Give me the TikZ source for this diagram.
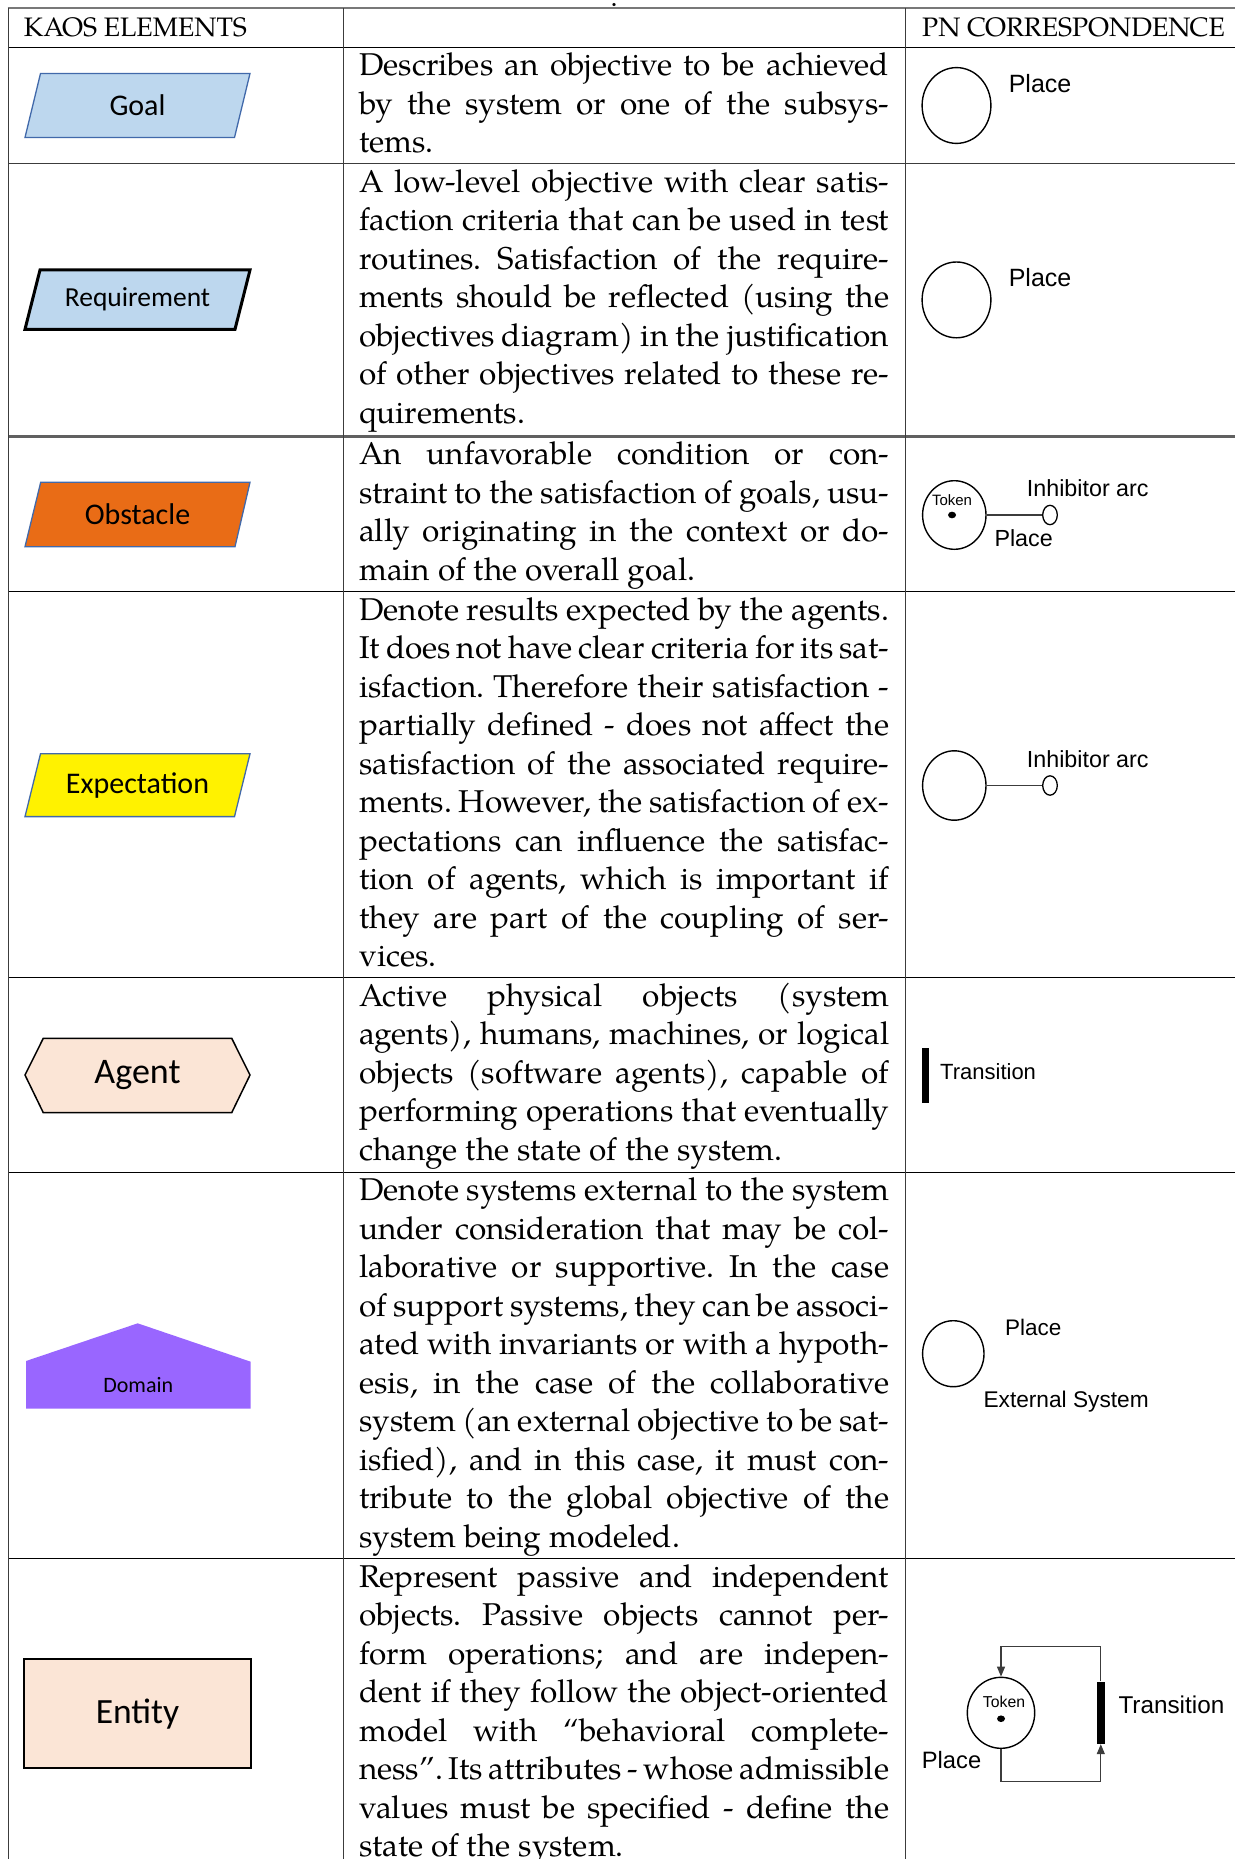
\documentclass[tikz,border=0pt]{standalone}
\usepackage{fontspec}
\usetikzlibrary{shapes.geometric,arrows.meta}
\newfontfamily\palfont{TeX Gyre Pagella}
\newfontfamily\calfont{Carlito}
\newfontfamily\arifont{Liberation Sans}
\definecolor{reqblue}{RGB}{189,215,238}
\definecolor{edgeblue}{RGB}{65,105,170}
\definecolor{obsorange}{RGB}{233,108,22}
\definecolor{agentpeach}{RGB}{251,229,214}
\definecolor{domviolet}{RGB}{153,102,255}
\definecolor{rulegray}{RGB}{120,120,120}
\definecolor{linegray}{RGB}{60,60,60}
% one justified line of a description, and the closing line
\newcommand\jl[1]{\makebox[530pt][s]{\frenchspacing\spaceskip=0pt\xspaceskip=0pt\strut#1}\\}
\newcommand\el[1]{\frenchspacing\spaceskip=0pt\xspaceskip=0pt\strut#1}
\begin{document}
\begin{tikzpicture}[x=1pt,y=-1pt,
  desc/.style={inner sep=0pt,anchor=north west,text width=530pt,align=left,
    font=\palfont\fontsize{31.5}{38.5}\selectfont},
  head/.style={inner sep=0pt,anchor=base west,font=\palfont\fontsize{26.7}{30}\selectfont},
  kaos/.style={inner sep=0pt,anchor=center},
  pnlabel/.style={inner sep=0pt,anchor=base west},
  place/.style={ellipse,draw=black,line width=1.4pt,inner sep=0pt},
  inhib/.style={ellipse,draw=black,line width=1.3pt,inner sep=0pt,
    minimum width=14.6pt,minimum height=19.4pt},
  tokendot/.style={ellipse,fill=black,inner sep=0pt,minimum width=8pt,minimum height=6.6pt},
  bar/.style={rectangle,fill=black,inner sep=0pt},
  arcline/.style={draw=linegray,line width=1.2pt},
  rowline/.style={draw=black,line width=1.3pt},
  colline/.style={draw=linegray,line width=1.4pt}]
\useasboundingbox (0,0) rectangle (1235,1859);

% stray caption dot above the table
\node[inner sep=0pt,anchor=base,font=\palfont\fontsize{28}{32}\selectfont] (capdot) at (614,6.5) {.};

% ---- table rules ----
\draw[draw=rulegray,line width=2.2pt] (7.6,8.3) -- (1235,8.3);
\draw[rowline] (8.3,47.4) -- (1235,47.4);
\draw[draw=linegray,line width=1.8pt] (8.3,163.6) -- (1235,163.6);
\draw[draw=rulegray!80!black,line width=3pt] (8.3,436.2) -- (1235,436.2);
\draw[rowline] (8.3,591.4) -- (1235,591.4);
\draw[rowline] (8.3,977.8) -- (1235,977.8);
\draw[rowline] (8.3,1172.2) -- (1235,1172.2);
\draw[rowline] (8.3,1558.5) -- (1235,1558.5);
\draw[colline] (8.3,8.3) -- (8.3,1859);
\draw[colline] (343.7,8.3) -- (343.7,1859);
\draw[colline] (905.5,8.3) -- (905.5,1859);

% ---- header ----
\node[head] (h1) at (23.7,36.7) {KAOS ELEMENTS};
\node[head] (h3) at (922,36.7) {PN CORRESPONDENCE};

% ---- KAOS element shapes ----
\draw[fill=reqblue,draw=edgeblue,line width=1.3pt]
  (25,137.5) -- (40.5,73.5) -- (250,73.5) -- (234.5,137.5) -- cycle;
\node[kaos,font=\calfont\fontsize{30}{36}\selectfont] (goal) at (137.5,105.5) {Goal};

\draw[fill=reqblue,draw=black,line width=3pt]
  (25,329.3) -- (40,270) -- (250,270) -- (235,329.3) -- cycle;
\node[kaos,font=\calfont\fontsize{27.5}{33}\selectfont] (req) at (137.5,299.6) {Requirement};

\draw[fill=obsorange,draw=edgeblue,line width=1.3pt]
  (25,546.7) -- (40.7,482.3) -- (250,482.3) -- (235,546.7) -- cycle;
\node[kaos,font=\calfont\fontsize{30}{36}\selectfont] (obs) at (137.5,514.5) {Obstacle};

\draw[fill=yellow,draw=edgeblue,line width=1.3pt]
  (25,816.6) -- (40.5,753.8) -- (250,753.8) -- (234.5,816.6) -- cycle;
\node[kaos,font=\calfont\fontsize{30}{36}\selectfont] (exp) at (137.5,785.2) {Expectation};

\draw[fill=agentpeach,draw=black,line width=1.5pt]
  (25,1075) -- (43.3,1038.3) -- (231.7,1038.3) -- (250,1075) -- (231.7,1112.7) -- (43.3,1112.7) -- cycle;
\node[kaos,font=\calfont\fontsize{36}{42}\selectfont] (agent) at (137.5,1075) {Agent};

\fill[domviolet]
  (26,1408.7) -- (26,1361) -- (137.7,1323.3) -- (250.7,1361.7) -- (250.7,1408.7) -- cycle;
\node[kaos,font=\calfont\fontsize{22}{26}\selectfont] (dom) at (138.3,1385) {Domain};

\draw[fill=agentpeach,draw=black,line width=2pt] (24.3,1659.3) rectangle (250.7,1768.3);
\node[kaos,font=\calfont\fontsize{35.5}{42}\selectfont] (ent) at (137.5,1714) {Entity};

% ---- descriptions ----
\node[desc] (dGoal) at (359,48.85) {%
\jl{Describes an objective to be achieved}
\jl{by the system or one of the subsys-}
\el{tems.}};

\node[desc] (dReq) at (359,165.05) {%
\jl{A low-level objective with clear satis-}
\jl{faction criteria that can be used in test}
\jl{routines. Satisfaction of the require-}
\jl{ments should be reflected (using the}
\jl{objectives diagram) in the justification}
\jl{of other objectives related to these re-}
\el{quirements.}};

\node[desc] (dObs) at (359,437.65) {%
\jl{An unfavorable condition or con-}
\jl{straint to the satisfaction of goals, usu-}
\jl{ally originating in the context or do-}
\el{main of the overall goal.}};

\node[desc] (dExp) at (359,592.85) {%
\jl{Denote results expected by the agents.}
\jl{It does not have clear criteria for its sat-}
\jl{isfaction. Therefore their satisfaction -}
\jl{partially defined - does not affect the}
\jl{satisfaction of the associated require-}
\jl{ments. However, the satisfaction of ex-}
\jl{pectations can influence the satisfac-}
\jl{tion of agents, which is important if}
\jl{they are part of the coupling of ser-}
\el{vices.}};

\node[desc] (dAgent) at (359,979.25) {%
\jl{Active physical objects (system}
\jl{agents), humans, machines, or logical}
\jl{objects (software agents), capable of}
\jl{performing operations that eventually}
\el{change the state of the system.}};

\node[desc] (dDom) at (359,1173.65) {%
\jl{Denote systems external to the system}
\jl{under consideration that may be col-}
\jl{laborative or supportive. In the case}
\jl{of support systems, they can be associ-}
\jl{ated with invariants or with a hypoth-}
\jl{esis, in the case of the collaborative}
\jl{system (an external objective to be sat-}
\jl{isfied), and in this case, it must con-}
\jl{tribute to the global objective of the}
\el{system being modeled.}};

\node[desc] (dEnt) at (359,1559.95) {%
\jl{Represent passive and independent}
\jl{objects. Passive objects cannot per-}
\jl{form operations; and are indepen-}
\jl{dent if they follow the object-oriented}
\jl{model with “behavioral complete-}
\jl{ness”. Its attributes - whose admissible}
\jl{values must be specified - define the}
\el{state of the system.}};

% ---- Petri net correspondences ----
% goal
\node[place,minimum width=68.8pt,minimum height=75.8pt] (pGoal) at (956.5,105.5) {};
\node[pnlabel,font=\arifont\fontsize{25}{30}\selectfont] (pGoalL) at (1008.6,92.4) {Place};
% requirement
\node[place,minimum width=68.8pt,minimum height=75.8pt] (pReq) at (956.5,299.9) {};
\node[pnlabel,font=\arifont\fontsize{25}{30}\selectfont] (pReqL) at (1008.6,286.8) {Place};
% obstacle
\node[place,minimum width=63.4pt,minimum height=68.6pt] (pObs) at (954.3,515) {};
\node[tokendot] (tObs) at (952,515) {};
\node[inner sep=0pt,anchor=base,font=\arifont\fontsize{15}{18}\selectfont] (tObsL) at (952,505) {Token};
\node[inhib] (iObs) at (1050,515) {};
\draw[arcline] (pObs) -- (iObs);
\node[pnlabel,font=\arifont\fontsize{23.3}{28}\selectfont] (iObsL) at (1026.7,496.7) {Inhibitor arc};
\node[pnlabel,font=\arifont\fontsize{23.3}{28}\selectfont] (pObsL) at (994.3,546) {Place};
% expectation
\node[place,minimum width=63.4pt,minimum height=69.4pt] (pExp) at (954.3,785.5) {};
\node[inhib] (iExp) at (1050,785.5) {};
\draw[arcline] (pExp) -- (iExp);
\node[pnlabel,font=\arifont\fontsize{23.3}{28}\selectfont] (iExpL) at (1026.7,767.7) {Inhibitor arc};
% agent
\node[bar,minimum width=7.6pt,minimum height=55pt] (tAgent) at (925.5,1075.8) {};
\node[pnlabel,font=\arifont\fontsize{22}{26}\selectfont] (tAgentL) at (940,1079.3) {Transition};
% domain
\node[place,minimum width=61.4pt,minimum height=66pt] (pDom) at (953.3,1353.7) {};
\node[pnlabel,font=\arifont\fontsize{22.5}{27}\selectfont] (pDomL) at (1005,1335) {Place};
\node[pnlabel,font=\arifont\fontsize{22.7}{27}\selectfont] (pDomE) at (983.3,1407.7) {External System};
% entity
\node[place,minimum width=67.4pt,minimum height=71pt] (pEnt) at (1001,1712.8) {};
\node[tokendot] (tEnt) at (1001,1718.7) {};
\node[inner sep=0pt,anchor=base,font=\arifont\fontsize{15.8}{19}\selectfont] (tEntL) at (1004,1707.3) {Token};
\node[bar,minimum width=8.3pt,minimum height=62.3pt] (trEnt) at (1100.8,1712.8) {};
\draw[arcline,-{Triangle[width=8pt,length=10pt]}] (pEnt.south) -- ++(0,32.4) -| (trEnt.south);
\draw[arcline,-{Triangle[width=8pt,length=10pt]}] (trEnt.north) -- ++(0,-35) -| (pEnt.north);
\node[pnlabel,font=\arifont\fontsize{24.3}{29}\selectfont] (trEntL) at (1118.3,1713.3) {Transition};
\node[pnlabel,font=\arifont\fontsize{23.7}{28}\selectfont] (pEntL) at (921.7,1768.3) {Place};
\end{tikzpicture}
\end{document}
